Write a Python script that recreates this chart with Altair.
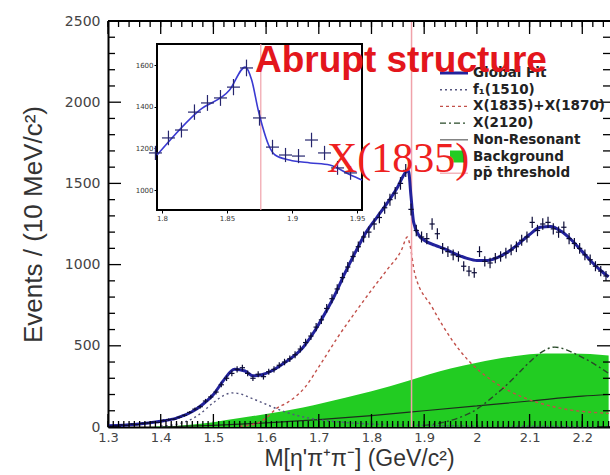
import altair as alt
import pandas as pd

# ---------------- main histogram (bin centres, events / 10 MeV) ----------------
mass = [1.305, 1.315, 1.325, 1.335, 1.345, 1.355, 1.365, 1.375, 1.385, 1.395,
        1.405, 1.415, 1.425, 1.435, 1.445, 1.455, 1.465, 1.475, 1.485, 1.495,
        1.505, 1.515, 1.525, 1.535, 1.545, 1.555, 1.565, 1.575, 1.585, 1.595,
        1.605, 1.615, 1.625, 1.635, 1.645, 1.655, 1.665, 1.675, 1.685, 1.695,
        1.705, 1.715, 1.725, 1.735, 1.745, 1.755, 1.765, 1.775, 1.785, 1.795,
        1.805, 1.815, 1.825, 1.835, 1.845, 1.855, 1.865, 1.875, 1.885, 1.895,
        1.905, 1.915, 1.925, 1.935, 1.945, 1.955, 1.965, 1.975, 1.985, 1.995,
        2.005, 2.015, 2.025, 2.035, 2.045, 2.055, 2.065, 2.075, 2.085, 2.095,
        2.105, 2.115, 2.125, 2.135, 2.145, 2.155, 2.165, 2.175, 2.185, 2.195,
        2.205, 2.215, 2.225, 2.235, 2.245]
events = [5, 8, 12, 10, 18, 15, 22, 25, 30, 28,
          40, 45, 48, 60, 72, 90, 110, 125, 160, 185,
          215, 260, 300, 330, 355, 365, 330, 300, 325, 310,
          340, 355, 380, 400, 420, 445, 480, 520, 560, 615,
          660, 730, 790, 850, 920, 985, 1050, 1110, 1170, 1200,
          1250, 1290, 1350, 1400, 1440, 1500, 1580, 1340, 1210, 1170,
          1160, 1250, 1190, 1100, 1080, 1060, 1050, 990, 960, 950,
          1080, 1020, 1010, 1040, 1050, 1070, 1090, 1110, 1150, 1170,
          1260, 1210, 1250, 1260, 1220, 1200, 1230, 1160, 1130, 1100,
          1060, 1030, 990, 960, 930]
errors = [2, 3, 3, 3, 4, 4, 5, 5, 5, 5,
          6, 7, 7, 8, 8, 9, 10, 11, 13, 14,
          15, 16, 17, 18, 19, 19, 18, 17, 18, 18,
          18, 19, 19, 20, 20, 21, 22, 23, 24, 25,
          26, 27, 28, 29, 30, 31, 32, 33, 34, 35,
          35, 36, 37, 37, 38, 39, 40, 37, 35, 34,
          34, 35, 34, 33, 33, 33, 32, 31, 31, 31,
          33, 32, 32, 32, 32, 33, 33, 33, 34, 34,
          35, 35, 35, 35, 35, 35, 35, 34, 34, 33,
          33, 32, 31, 31, 30]

# ---------------- fit components ----------------
fit_mass = [1.30, 1.35, 1.40, 1.43, 1.46, 1.48, 1.50, 1.52, 1.54, 1.56,
            1.575, 1.59, 1.61, 1.63, 1.65, 1.67, 1.69, 1.71, 1.73, 1.75,
            1.77, 1.79, 1.81, 1.83, 1.85, 1.865, 1.87, 1.875, 1.88, 1.89,
            1.90, 1.92, 1.94, 1.96, 1.98, 2.00, 2.02, 2.04, 2.06, 2.08,
            2.10, 2.12, 2.14, 2.16, 2.18, 2.20, 2.22, 2.24, 2.25]
fit_val = [8, 15, 35, 55, 95, 140, 200, 290, 355, 345,
           315, 320, 345, 385, 430, 490, 580, 690, 810, 950,
           1080, 1200, 1290, 1380, 1480, 1570, 1580, 1420, 1260, 1180,
           1150, 1120, 1095, 1065, 1040, 1025, 1025, 1045, 1080, 1130,
           1185, 1230, 1235, 1205, 1150, 1080, 1010, 950, 925]

f1_mass = [1.40, 1.44, 1.47, 1.50, 1.52, 1.535, 1.55, 1.57, 1.60, 1.63, 1.66, 1.70, 1.75, 1.80, 1.90, 2.00, 2.25]
f1_val = [5, 25, 70, 150, 195, 210, 205, 180, 140, 100, 70, 45, 28, 18, 10, 6, 3]

x1835_mass = [1.55, 1.58, 1.60, 1.62, 1.64, 1.674, 1.70, 1.736, 1.77, 1.80, 1.83, 1.857, 1.868,
              1.873, 1.882, 1.915, 1.953, 1.983, 2.027, 2.086, 2.148, 2.25]
x1835_val = [5, 20, 55, 115, 150, 245, 370, 553, 710, 843, 970, 1090, 1170,
             1120, 947, 738, 535, 412, 290, 185, 123, 84]

x2120_mass = [1.90, 1.95, 2.00, 2.03, 2.06, 2.08, 2.10, 2.12, 2.148, 2.17, 2.19, 2.21, 2.25]
x2120_val = [10, 40, 110, 185, 270, 335, 400, 455, 492, 475, 445, 412, 330]

nr_mass = [1.40, 1.50, 1.60, 1.70, 1.80, 1.90, 2.00, 2.10, 2.20, 2.25]
nr_val = [0, 10, 25, 45, 70, 100, 130, 160, 190, 200]

bkg_mass = [1.38, 1.45, 1.50, 1.55, 1.60, 1.67, 1.75, 1.80, 1.87, 1.95, 2.00, 2.07, 2.13, 2.18, 2.25]
bkg_val = [0, 12, 30, 55, 80, 120, 180, 220, 285, 360, 395, 435, 452, 452, 440]

threshold = [1.876]

# ---------------- inset ----------------
inset_mass = [1.795, 1.805, 1.815, 1.825, 1.835, 1.845, 1.855, 1.865,
              1.875, 1.885, 1.895, 1.905, 1.915, 1.925, 1.935, 1.945]
inset_events = [1178, 1250, 1288, 1374, 1418, 1442, 1494, 1586,
                1346, 1206, 1168, 1163, 1240, 1178, 1106, 1082]
inset_errors = [34, 35, 36, 37, 38, 38, 39, 40, 37, 35, 34, 34, 35, 34, 33, 33]
inset_fit_mass = [1.7962, 1.829, 1.852, 1.864, 1.869, 1.874, 1.877, 1.882, 1.887, 1.898, 1.914, 1.929, 1.945, 1.9538]
inset_fit_val = [1168, 1384, 1480, 1590, 1528, 1384, 1312, 1216, 1168, 1144, 1130, 1120, 1072, 1048]

# ---------------- axis ticks / labels ----------------
x_major = [1.3, 1.4, 1.5, 1.6, 1.7, 1.8, 1.9, 2.0, 2.1, 2.2]
y_major = [0, 500, 1000, 1500, 2000, 2500]
inset_x_ticks = [1.8, 1.85, 1.9, 1.95]
inset_y_ticks = [1000, 1200, 1400, 1600]
legend_labels = ["Global Fit", "f\u2081(1510)", "X(1835)+X(1870)", "X(2120)",
                 "Non-Resonant", "Background", "pp\u0304 threshold"]

# ---------------- layout / style ----------------
W, H = 502, 406
XDOM = [1.3, 2.2526]
YDOM = [0, 2500]
XDOM_IN = [1.7962, 1.9538]
YDOM_IN = [904, 1701]
XR_IN = [49, 254]
YR_IN = [189, 23]

FIT_C = "#22229c"
DATA_C = "#0c0c38"
F1_C = "#55557f"
X1835_C = "#c2504a"
X2120_C = "#284a28"
NR_C = "#1d2d1d"
BKG_C = "#22cc22"
THR_C = "#f0a2aa"

XS = alt.Scale(domain=XDOM, nice=False, zero=False)
YS = alt.Scale(domain=YDOM, nice=False)
XA = alt.Axis(values=x_major, format=".1~f", title="M[\u03b7'\u03c0\u207a\u03c0\u207b] (GeV/c\u00b2)",
              tickSize=0, labelPadding=4, domainWidth=2, domainColor="black",
              labelFont="DejaVu Sans", labelFontSize=13, labelColor="#444", labelFlush=False,
              titleFont="Liberation Sans", titleFontSize=23, titleFontWeight="normal",
              titleColor="#333", titlePadding=3, grid=False)
YA = alt.Axis(values=y_major, format="d", title="Events / (10 MeV/c\u00b2)",
              tickSize=0, labelPadding=8, domainWidth=2, domainColor="black",
              labelFont="DejaVu Sans", labelFontSize=14, labelColor="#444",
              titleFont="Liberation Sans", titleFontSize=26, titleFontWeight="normal",
              titleColor="#333", titlePadding=18, grid=False)


def X(field):
    return alt.X(field, type="quantitative", scale=XS, axis=XA)


def Y(field):
    return alt.Y(field, type="quantitative", scale=YS, axis=YA)


def curve(ms, vs, color, width, dash=None):
    df = pd.DataFrame({"m": ms, "v": vs})
    kw = dict(color=color, strokeWidth=width, interpolate="monotone")
    if dash is not None:
        kw["strokeDash"] = dash
    return alt.Chart(df).mark_line(**kw).encode(x=X("m"), y=Y("v"))


main_df = pd.DataFrame({"m": mass, "v": events, "e": errors})
main_df["lo"] = main_df["m"] - 0.005
main_df["hi"] = main_df["m"] + 0.005
main_df["vlo"] = main_df["v"] - main_df["e"]
main_df["vhi"] = main_df["v"] + main_df["e"]

bkg = alt.Chart(pd.DataFrame({"m": bkg_mass, "v": bkg_val})).mark_area(
    color=BKG_C, opacity=1, interpolate="monotone").encode(x=X("m"), y=Y("v"))
nr = curve(nr_mass, nr_val, NR_C, 1.2)
f1 = curve(f1_mass, f1_val, F1_C, 1.4, [2, 3])
x1835 = curve(x1835_mass, x1835_val, X1835_C, 1.4, [3, 3])
x2120 = curve(x2120_mass, x2120_val, X2120_C, 1.4, [6, 3, 2, 3])
thr = alt.Chart(pd.DataFrame({"m": threshold})).mark_rule(color=THR_C, strokeWidth=1.5).encode(x=X("m"))
fit = curve(fit_mass, fit_val, FIT_C, 3)
data_h = alt.Chart(main_df).mark_rule(color=DATA_C, strokeWidth=1.2).encode(x=X("lo"), x2="hi", y=Y("v"))
data_v = alt.Chart(main_df).mark_rule(color=DATA_C, strokeWidth=1.2).encode(x=X("m"), y=Y("vlo"), y2="vhi")

# frame ticks (pointing inward)
y_minor = [v for v in range(100, 2500, 100) if v % 500 != 0]
x_minor_b = [round(1.3 + 0.01 * i, 2) for i in range(96)]
x_minor_t = [round(1.3 + 0.02 * i, 2) for i in range(48)]


def yticks(vals, a, b):
    return alt.Chart(pd.DataFrame({"v": vals})).mark_rule(color="black", strokeWidth=1.3).encode(
        y=Y("v"), x=alt.value(a), x2=alt.value(b))


def xticks(vals, a, b):
    return alt.Chart(pd.DataFrame({"m": vals})).mark_rule(color="black", strokeWidth=1.3).encode(
        x=X("m"), y=alt.value(a), y2=alt.value(b))


top_frame = alt.Chart(pd.DataFrame({"m": XDOM})).mark_rule(color="black", strokeWidth=2).encode(
    x=alt.value(0), x2=alt.value(W), y=alt.value(0))

ticks = [
    yticks(y_major, 0, 13), yticks(y_minor, 0, 7),
    yticks(y_major, W - 13, W), yticks(y_minor, W - 7, W),
    xticks(x_major, H, H - 13), xticks(x_minor_b, H, H - 6),
    xticks(x_major, 0, 13), xticks(x_minor_t, 0, 6),
]

main = alt.layer(bkg, nr, f1, x1835, x2120, thr, fit, data_h, data_v, top_frame, *ticks)

# ---------------- inset ----------------
XSI = alt.Scale(domain=XDOM_IN, range=XR_IN, nice=False, zero=False)
YSI = alt.Scale(domain=YDOM_IN, range=YR_IN, nice=False, zero=False)
XAI = alt.Axis(orient="bottom", offset=-(H - YR_IN[0]), values=inset_x_ticks, format=".2~f",
               labelFontSize=7, labelFont="DejaVu Sans", labelColor="#333", tickSize=3,
               tickColor="black", domain=False, title=None, labelPadding=1, grid=False)
YAI = alt.Axis(orient="left", offset=-XR_IN[0], values=inset_y_ticks, format="d",
               labelFontSize=7, labelFont="DejaVu Sans", labelColor="#333", tickSize=3,
               tickColor="black", domain=False, title=None, labelPadding=1, grid=False)


def XI(field):
    return alt.X(field, type="quantitative", scale=XSI, axis=XAI)


def YI(field):
    return alt.Y(field, type="quantitative", scale=YSI, axis=YAI)


in_df = pd.DataFrame({"m": inset_mass, "v": inset_events, "e": inset_errors})
in_df["lo"] = in_df["m"] - 0.005
in_df["hi"] = in_df["m"] + 0.005
in_df["vlo"] = in_df["v"] - in_df["e"]
in_df["vhi"] = in_df["v"] + in_df["e"]

frame_df = pd.DataFrame({"x0": [XDOM_IN[0]], "x1": [XDOM_IN[1]], "y0": [YDOM_IN[0]], "y1": [YDOM_IN[1]]})
in_frame = alt.Chart(frame_df).mark_rect(fill="white", stroke="black", strokeWidth=2).encode(
    x=XI("x0"), x2="x1", y=YI("y0"), y2="y1")
in_thr = alt.Chart(pd.DataFrame({"m": threshold, "y0": [YDOM_IN[0]], "y1": [YDOM_IN[1]]})).mark_rule(
    color=THR_C, strokeWidth=1.2).encode(x=XI("m"), y=YI("y0"), y2="y1")
in_h = alt.Chart(in_df).mark_rule(color="#26266e", strokeWidth=1.2, clip=True).encode(x=XI("lo"), x2="hi", y=YI("v"))
in_v = alt.Chart(in_df).mark_rule(color="#26266e", strokeWidth=1.2, clip=True).encode(x=XI("m"), y=YI("vlo"), y2="vhi")
in_fit = alt.Chart(pd.DataFrame({"m": inset_fit_mass, "v": inset_fit_val})).mark_line(
    color="#3a3ad2", strokeWidth=1.6, interpolate="monotone").encode(x=XI("m"), y=YI("v"))

inset = alt.layer(in_frame, in_thr, in_fit, in_h, in_v)

# ---------------- legend + annotations ----------------
LX_TEXT, LX0, LX1 = 365, 332, 360
L_Y0, L_DY = 52, 16.7
leg_df = pd.DataFrame({"label": legend_labels,
                       "ly": [L_Y0 + L_DY * i for i in range(len(legend_labels))]})
leg_text = alt.Chart(leg_df).mark_text(align="left", baseline="middle", font="DejaVu Sans",
                                       fontWeight="bold", fontSize=13.5, color="#222").encode(
    x=alt.value(LX_TEXT), y=alt.Y("ly:Q", scale=None), text="label:N")

one = pd.DataFrame({"k": [0]})


def sample(i, color, width, dash=None):
    kw = dict(color=color, strokeWidth=width)
    if dash is not None:
        kw["strokeDash"] = dash
    return alt.Chart(one).mark_rule(**kw).encode(
        x=alt.value(LX0), x2=alt.value(LX1), y=alt.value(L_Y0 + L_DY * i))


samples = [
    sample(0, FIT_C, 3), sample(1, F1_C, 1.4, [2, 3]), sample(2, X1835_C, 1.4, [3, 3]),
    sample(3, X2120_C, 1.4, [6, 3, 2, 3]), sample(4, "#777", 1.4), sample(6, THR_C, 1.2),
    alt.Chart(one).mark_rect(color=BKG_C).encode(
        x=alt.value(LX0 + 10), x2=alt.value(LX0 + 24),
        y=alt.value(L_Y0 + L_DY * 5 - 6), y2=alt.value(L_Y0 + L_DY * 5 + 6)),
]

abrupt = alt.Chart(pd.DataFrame({"t": ["Abrupt structure"]})).mark_text(
    align="left", baseline="alphabetic", font="Liberation Sans", fontWeight="bold",
    fontSize=37, color="#e3161c").encode(x=alt.value(147), y=alt.value(51), text="t:N")
xlabel = alt.Chart(pd.DataFrame({"t": ["X(1835)"]})).mark_text(
    align="left", baseline="alphabetic", font="Liberation Serif",
    fontSize=42, color="#ee2020").encode(x=alt.value(219), y=alt.value(151), text="t:N")

annot = alt.layer(*samples, leg_text, abrupt, xlabel)

chart = alt.layer(main, inset, annot).resolve_scale(x="independent", y="independent").properties(
    width=W, height=H,
    autosize=alt.AutoSizeParams(type="none"),
    padding={"left": 108, "top": 21, "right": 0, "bottom": 48},
    background="white",
).configure_view(stroke=None).configure_axis(grid=False)

chart.save("out.html", embed_options={"renderer": "svg", "actions": False})
